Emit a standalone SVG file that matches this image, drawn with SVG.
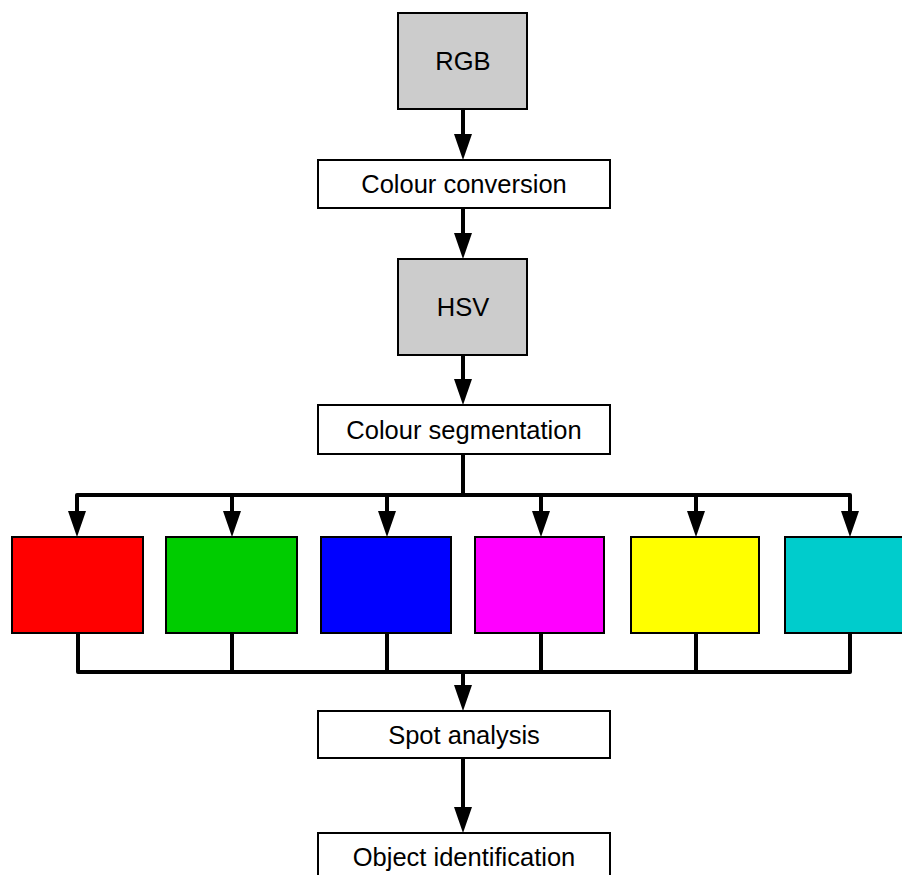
<svg xmlns="http://www.w3.org/2000/svg" width="902" height="875" viewBox="0 0 902 875">
  <style>
    .box { stroke: #000; stroke-width: 2; }
    .grey { fill: #cccccc; }
    .white { fill: #ffffff; }
    .lbl { font-family: "Liberation Sans", Arial, sans-serif; font-size: 25.5px; fill: #000; text-anchor: middle; }
    .wire { fill: none; stroke: #000; stroke-width: 4; stroke-linejoin: round; }
    .arrow { fill: none; stroke: #000; stroke-width: 4; marker-end: url(#head); }
  </style>
  <defs>
    <marker id="head" markerUnits="userSpaceOnUse" markerWidth="26" markerHeight="18" refX="0" refY="9" orient="auto" overflow="visible">
      <path d="M0,0 L26,9 L0,18 Z" fill="#000"/>
    </marker>
  </defs>
  <rect width="902" height="875" fill="#ffffff"/>

  <!-- processing chain -->
  <g id="rgb">
    <rect class="box grey" x="398" y="13" width="129" height="96"/>
    <text class="lbl" x="463" y="70">RGB</text>
  </g>
  <g id="colour-conversion">
    <rect class="box white" x="318" y="160" width="292" height="48"/>
    <text class="lbl" x="464" y="193">Colour conversion</text>
  </g>
  <g id="hsv">
    <rect class="box grey" x="398" y="259" width="129" height="96"/>
    <text class="lbl" x="463" y="316">HSV</text>
  </g>
  <g id="colour-segmentation">
    <rect class="box white" x="318" y="405" width="292" height="49"/>
    <text class="lbl" x="464" y="439">Colour segmentation</text>
  </g>

  <!-- colour channels -->
  <g id="red"><rect class="box" fill="#ff0000" x="12" y="537" width="131" height="96"/></g>
  <g id="green"><rect class="box" fill="#00cc00" x="166" y="537" width="131" height="96"/></g>
  <g id="blue"><rect class="box" fill="#0000ff" x="321" y="537" width="130" height="96"/></g>
  <g id="magenta"><rect class="box" fill="#ff00ff" x="475" y="537" width="129" height="96"/></g>
  <g id="yellow"><rect class="box" fill="#ffff00" x="631" y="537" width="128" height="96"/></g>
  <g id="cyan"><rect class="box" fill="#00cccc" x="785" y="537" width="131" height="96"/></g>

  <g id="spot-analysis">
    <rect class="box white" x="318" y="711" width="292" height="47"/>
    <text class="lbl" x="464" y="744">Spot analysis</text>
  </g>
  <g id="object-identification">
    <rect class="box white" x="318" y="833" width="292" height="50"/>
    <text class="lbl" x="464" y="866">Object identification</text>
  </g>

  <g id="connectors">
    <line class="arrow" x1="463" y1="109" x2="463" y2="134"/>
    <line class="arrow" x1="463" y1="208" x2="463" y2="233"/>
    <line class="arrow" x1="463" y1="355" x2="463" y2="379"/>
    <!-- fan-out to the colour channels -->
    <line class="wire" x1="463" y1="454" x2="463" y2="495"/>
    <polyline class="wire" points="77,511 77,495 850,495 850,511"/>
    <line class="arrow" x1="77" y1="495" x2="77" y2="511"/>
    <line class="arrow" x1="232" y1="495" x2="232" y2="511"/>
    <line class="arrow" x1="387" y1="495" x2="387" y2="511"/>
    <line class="arrow" x1="541" y1="495" x2="541" y2="511"/>
    <line class="arrow" x1="696" y1="495" x2="696" y2="511"/>
    <line class="arrow" x1="850" y1="495" x2="850" y2="511"/>
    <!-- fan-in from the colour channels -->
    <polyline class="wire" points="78,633 78,672 850,672 850,633"/>
    <line class="wire" x1="232" y1="633" x2="232" y2="672"/>
    <line class="wire" x1="387" y1="633" x2="387" y2="672"/>
    <line class="wire" x1="541" y1="633" x2="541" y2="672"/>
    <line class="wire" x1="696" y1="633" x2="696" y2="672"/>
    <line class="arrow" x1="463" y1="672" x2="463" y2="685"/>
    <line class="arrow" x1="463" y1="758" x2="463" y2="807"/>
  </g>
</svg>
